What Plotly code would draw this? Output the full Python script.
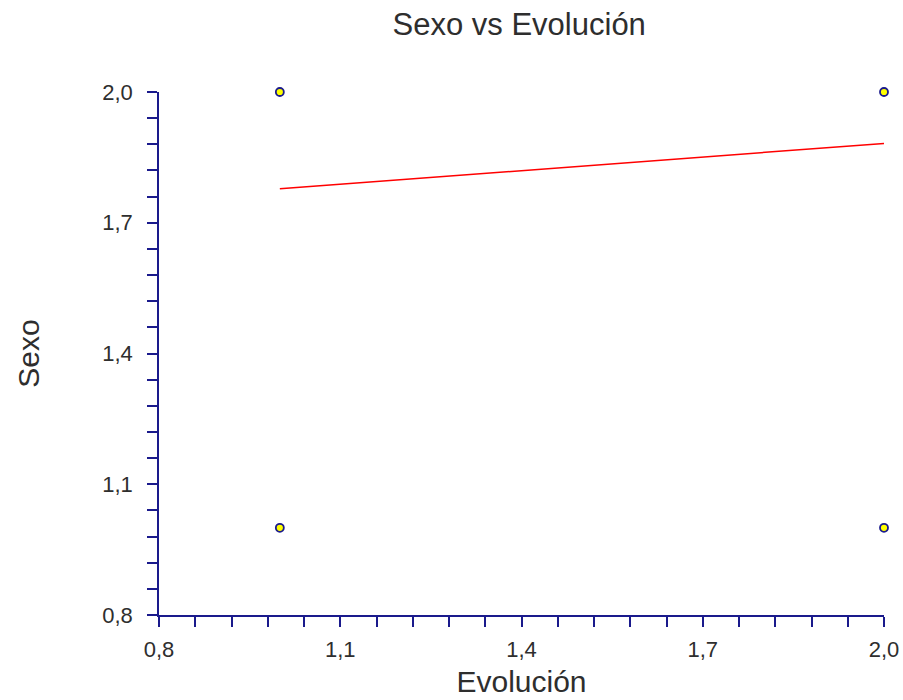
import plotly.graph_objects as go

# Observed (Evolución, Sexo) combinations
evolucion = [1.0, 1.0, 2.0, 2.0]
sexo = [2.0, 1.0, 2.0, 1.0]

# Fitted regression line endpoints
fit_x = [1.0, 2.0]
fit_y = [1.778, 1.882]

axis_color = "#1a1a8c"
text_color = "#2e2e2e"
font_family = "Liberation Sans, Arial, sans-serif"

fig = go.Figure()
fig.add_trace(go.Scatter(
    x=fit_x, y=fit_y, mode="lines",
    line=dict(color="#ff0000", width=1.5),
    showlegend=False, cliponaxis=False,
))
fig.add_trace(go.Scatter(
    x=evolucion, y=sexo, mode="markers",
    marker=dict(size=8, color="#ffff00", line=dict(color=axis_color, width=1.8), symbol="circle"),
    showlegend=False, cliponaxis=False,
))

axis_common = dict(
    showline=True, linecolor=axis_color, linewidth=1.5,
    showgrid=False, zeroline=False, automargin=False,
    ticks="outside", ticklen=10, tickwidth=1.5, tickcolor=axis_color,
    tick0=0.8, dtick=0.3, tickformat=".1f",
    tickfont=dict(family=font_family, size=22, color=text_color),
    minor=dict(ticks="outside", ticklen=10, tickwidth=1.5, tickcolor=axis_color,
               dtick=0.06, tick0=0.8, showgrid=False),
    autorange=False, range=[0.8, 2.0],
)

fig.update_layout(
    width=903, height=700,
    margin=dict(l=159, r=19, t=92, b=85, autoexpand=False),
    paper_bgcolor="white", plot_bgcolor="white",
    separators=",.",
    title=dict(text="Sexo vs Evolución", x=0.575, xanchor="center", y=0.966, yanchor="middle",
               font=dict(family=font_family, size=31, color=text_color)),
    xaxis=dict(**axis_common, ticklabelstandoff=4,
               title=dict(text="Evolución", standoff=10,
                          font=dict(family=font_family, size=30, color=text_color))),
    yaxis=dict(**axis_common, ticklabelstandoff=10,
               title=dict(text="Sexo", standoff=54,
                          font=dict(family=font_family, size=30, color=text_color))),
)

fig.write_html("out.html")
